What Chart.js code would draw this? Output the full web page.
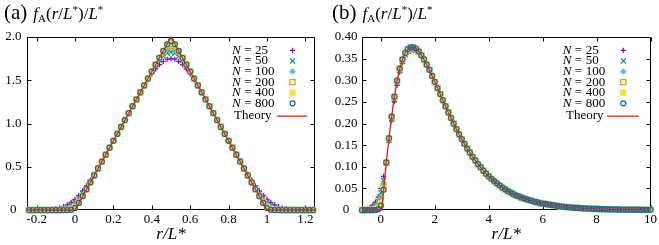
<!DOCTYPE html>
<html>
<head>
<meta charset="utf-8">
<script src="https://cdn.jsdelivr.net/npm/chart.js@4.4.1/dist/chart.umd.min.js"></script>
<style>
  body { margin: 0; background: #fff; width: 659px; height: 245px; position: relative; overflow: hidden; }
  canvas { position: absolute; top: 0; }
  .ttl { position: absolute; top: 0; height: 24px; line-height: 24px; white-space: nowrap; font-family: "Liberation Serif", serif; color: #000; }
  .pl { font-size: 21px; }
  .fx { font-size: 17px; margin-left: 6px; }
  .fx sub { font-size: 11px; vertical-align: -3px; line-height: 0; }
  .fx sup { font-size: 11px; vertical-align: 6px; line-height: 0; }
</style>
</head>
<body>
<canvas id="chartA" width="330" height="245" style="left:0"></canvas>
<canvas id="chartB" width="329" height="245" style="left:330px"></canvas>
<div class="ttl" style="left:4px"><span class="pl">(a)</span><span class="fx"><i>f</i><sub>A</sub>(<i>r</i>/<i>L</i><sup>*</sup>)/<i>L</i><sup>*</sup></span></div>
<div class="ttl" style="left:332px"><span class="pl">(b)</span><span class="fx"><i>f</i><sub>A</sub>(<i>r</i>/<i>L</i><sup>*</sup>)/<i>L</i><sup>*</sup></span></div>
<script>
// legend labels
const sizes = ["25", "50", "100", "200", "400", "800"];

// ---- panel (a) ----
const xA = [
  -0.24,-0.22,-0.2,-0.18,-0.16,-0.14,-0.12,-0.1,-0.08,-0.06,
  -0.04,-0.02,0,0.02,0.04,0.06,0.08,0.1,0.12,0.14,
  0.16,0.18,0.2,0.22,0.24,0.26,0.28,0.3,0.32,0.34,
  0.36,0.38,0.4,0.42,0.44,0.46,0.48,0.5,0.52,0.54,
  0.56,0.58,0.6,0.62,0.64,0.66,0.68,0.7,0.72,0.74,
  0.76,0.78,0.8,0.82,0.84,0.86,0.88,0.9,0.92,0.94,
  0.96,0.98,1,1.02,1.04,1.06,1.08,1.1,1.12,1.14,
  1.16,1.18,1.2,1.22,1.24
];
const n25A = [
  0,0,0,0.001,0.002,0.004,0.008,0.015,0.025,0.04,
  0.06,0.089,0.124,0.169,0.22,0.28,0.345,0.415,0.488,0.565,
  0.642,0.721,0.8,0.88,0.96,1.04,1.12,1.199,1.278,1.355,
  1.431,1.503,1.571,1.631,1.681,1.719,1.743,1.751,1.743,1.719,
  1.681,1.631,1.571,1.503,1.431,1.355,1.278,1.199,1.12,1.04,
  0.96,0.88,0.8,0.721,0.642,0.565,0.488,0.415,0.345,0.28,
  0.22,0.169,0.124,0.089,0.06,0.04,0.025,0.015,0.008,0.004,
  0.002,0.001,0,0,0
];
const n50A = [
  0,0,0,0,0,0,0.001,0.003,0.007,0.015,
  0.03,0.053,0.088,0.134,0.19,0.255,0.327,0.403,0.481,0.56,
  0.64,0.72,0.8,0.88,0.96,1.04,1.12,1.2,1.28,1.36,
  1.439,1.518,1.594,1.666,1.729,1.78,1.813,1.824,1.813,1.78,
  1.729,1.666,1.594,1.518,1.439,1.36,1.28,1.2,1.12,1.04,
  0.96,0.88,0.8,0.72,0.64,0.56,0.481,0.403,0.327,0.255,
  0.19,0.134,0.088,0.053,0.03,0.015,0.007,0.003,0.001,0,
  0,0,0,0,0
];
const n100A = [
  0,0,0,0,0,0,0,0,0.001,0.004,
  0.012,0.03,0.062,0.11,0.172,0.244,0.321,0.4,0.48,0.56,
  0.64,0.72,0.8,0.88,0.96,1.04,1.12,1.2,1.28,1.36,
  1.44,1.52,1.6,1.678,1.752,1.815,1.86,1.876,1.86,1.815,
  1.752,1.678,1.6,1.52,1.44,1.36,1.28,1.2,1.12,1.04,
  0.96,0.88,0.8,0.72,0.64,0.56,0.48,0.4,0.321,0.244,
  0.172,0.11,0.062,0.03,0.012,0.004,0.001,0,0,0,
  0,0,0,0,0
];
const n200A = [
  0,0,0,0,0,0,0,0,0,0.001,
  0.004,0.016,0.045,0.096,0.164,0.241,0.32,0.4,0.48,0.56,
  0.64,0.72,0.8,0.88,0.96,1.04,1.12,1.2,1.28,1.36,
  1.44,1.52,1.6,1.68,1.759,1.832,1.889,1.911,1.889,1.832,
  1.759,1.68,1.6,1.52,1.44,1.36,1.28,1.2,1.12,1.04,
  0.96,0.88,0.8,0.72,0.64,0.56,0.48,0.4,0.32,0.241,
  0.164,0.096,0.045,0.016,0.004,0.001,0,0,0,0,
  0,0,0,0,0
];
const n400A = [
  0,0,0,0,0,0,0,0,0,0,
  0.001,0.006,0.031,0.086,0.161,0.24,0.32,0.4,0.48,0.56,
  0.64,0.72,0.8,0.88,0.96,1.04,1.12,1.2,1.28,1.36,
  1.44,1.52,1.6,1.68,1.76,1.839,1.908,1.938,1.908,1.839,
  1.76,1.68,1.6,1.52,1.44,1.36,1.28,1.2,1.12,1.04,
  0.96,0.88,0.8,0.72,0.64,0.56,0.48,0.4,0.32,0.24,
  0.161,0.086,0.031,0.006,0.001,0,0,0,0,0,
  0,0,0,0,0
];
const n800A = [
  0,0,0,0,0,0,0,0,0,0,
  0,0.002,0.022,0.082,0.16,0.24,0.32,0.4,0.48,0.56,
  0.64,0.72,0.8,0.88,0.96,1.04,1.12,1.2,1.28,1.36,
  1.44,1.52,1.6,1.68,1.76,1.84,1.916,1.955,1.916,1.84,
  1.76,1.68,1.6,1.52,1.44,1.36,1.28,1.2,1.12,1.04,
  0.96,0.88,0.8,0.72,0.64,0.56,0.48,0.4,0.32,0.24,
  0.16,0.082,0.022,0.002,0,0,0,0,0,0,
  0,0,0,0,0
];
const theoryXA = [-0.25, 0, 0.5, 1, 1.25];
const theoryYA = [0, 0, 2, 0, 0];
const ticksXA = [-0.2, 0, 0.2, 0.4, 0.6, 0.8, 1, 1.2];
const labelsXA = ["-0.2", "0", "0.2", "0.4", "0.6", "0.8", "1", "1.2"];
const ticksYA = [0, 0.5, 1, 1.5, 2];
const labelsYA = ["0", "0.5", "1.0", "1.5", "2.0"];

// ---- panel (b) ----
const xBHead = [-0.7,-0.6,-0.5,-0.4,-0.3,-0.2,-0.1,0,0.1,0.2,0.3,0.4,0.5,0.6,0.7,0.8,0.9,1,1.1,1.2,1.3,1.4];
const n25BHead  = [0,0.001,0.003,0.006,0.011,0.018,0.03,0.05,0.078,0.112,0.158,0.206,0.25,0.288,0.318,0.34,0.355,0.364,0.368,0.369,0.367,0.362];
const n50BHead  = [0,0,0.001,0.003,0.006,0.011,0.02,0.04,0.068,0.11,0.161,0.21,0.255,0.293,0.322,0.344,0.359,0.368,0.372,0.372,0.37,0.364];
const n100BHead = [0,0,0,0.001,0.003,0.006,0.013,0.03,0.06,0.109,0.163,0.213,0.259,0.296,0.325,0.346,0.361,0.37,0.374,0.374,0.372,0.366];
const n200BHead = [0,0,0,0,0.001,0.003,0.008,0.022,0.054,0.109,0.165,0.215,0.261,0.298,0.326,0.347,0.362,0.371,0.375,0.375,0.372,0.366];
const n400BHead = [0,0,0,0,0,0.001,0.004,0.015,0.05,0.11,0.166,0.216,0.262,0.299,0.327,0.348,0.363,0.372,0.376,0.376,0.373,0.367];
const n800BHead = [0,0,0,0,0,0,0.002,0.01,0.047,0.11,0.166,0.216,0.262,0.299,0.327,0.348,0.363,0.372,0.376,0.376,0.373,0.367];
const theoryXBHead = [-0.7,0.03,0.1,0.2,0.3,0.4,0.5,0.6,0.7,0.8,0.9,1,1.1,1.2,1.3,1.4];
const theoryYBHead = [0,0,0.045,0.11,0.166,0.216,0.262,0.299,0.327,0.348,0.363,0.372,0.376,0.376,0.373,0.367];
// beyond r/L* = 1.5 all sizes sit on the theory curve
const xBTail = [
  1.5,1.6,1.7,1.8,1.9,2,2.1,2.2,2.3,2.4,
  2.5,2.6,2.7,2.8,2.9,3,3.1,3.2,3.3,3.4,
  3.5,3.6,3.7,3.8,3.9,4,4.1,4.2,4.3,4.4,
  4.5,4.6,4.7,4.8,4.9,5,5.1,5.2,5.3,5.4,
  5.5,5.6,5.7,5.8,5.9,6,6.1,6.2,6.3,6.4,
  6.5,6.6,6.7,6.8,6.9,7,7.1,7.2,7.3,7.4,
  7.5,7.6,7.7,7.8,7.9,8,8.1,8.2,8.3,8.4,
  8.5,8.6,8.7,8.8,8.9,9,9.1,9.2,9.3,9.4,
  9.5,9.6,9.7,9.8,9.9,10
];
const tailB = [
  0.358,0.348,0.336,0.324,0.31,0.296,0.282,0.268,0.254,0.24,
  0.226,0.213,0.2,0.187,0.175,0.164,0.153,0.142,0.133,0.123,
  0.115,0.106,0.099,0.091,0.084,0.078,0.072,0.067,0.062,0.057,
  0.052,0.048,0.044,0.041,0.037,0.034,0.032,0.029,0.027,0.025,
  0.023,0.021,0.019,0.018,0.016,0.015,0.014,0.013,0.012,0.011,
  0.01,0.009,0.008,0.0074,0.0068,0.0062,0.0057,0.0052,0.0048,0.0044,
  0.004,0.0037,0.0034,0.0031,0.0028,0.0026,0.0023,0.0021,0.0019,0.0018,
  0.0016,0.0015,0.0013,0.0012,0.0011,0.001,0.0009,0.0008,0.0008,0.0007,
  0.0006,0.0006,0.0005,0.0005,0.0004,0.0004
];
const ticksXB = [0, 2, 4, 6, 8, 10];
const labelsXB = ["0", "2", "4", "6", "8", "10"];
const ticksYB = [0, 0.05, 0.1, 0.15, 0.2, 0.25, 0.3, 0.35, 0.4];
const labelsYB = ["0", "0.05", "0.10", "0.15", "0.20", "0.25", "0.30", "0.35", "0.40"];

// gnuplot-ish colours and point types
const colors = ["#9400d3", "#009e73", "#56b4e9", "#e69f00", "#f0e442", "#0072b2"];
const styles = ["cross", "crossRot", "star", "rect", "rect", "circle"];
const radii = [2.6, 3.6, 3, 3.6, 3.6, 2.5];
const fills = ["transparent", "transparent", "transparent", "transparent", "#f0e442", "transparent"];
const red = "#e51e10";
const serif = '"Liberation Serif", "Times New Roman", serif';

function pts(xs, ys) {
  return xs.map((x, i) => ({ x: x, y: ys[i] }));
}

function makeSets(xs, series, thX, thY) {
  const sets = series.map((ys, i) => ({
    label: "N = " + sizes[i],
    data: pts(xs, ys),
    showLine: false,
    pointStyle: styles[i],
    pointRadius: radii[i],
    pointBorderWidth: 1.25,
    borderColor: colors[i],
    backgroundColor: fills[i],
    pointBackgroundColor: fills[i],
    order: 7 - i,
    clip: 6,
  }));
  sets.push({
    label: "Theory",
    data: pts(thX, thY),
    showLine: true,
    borderColor: red,
    borderWidth: 1.3,
    pointRadius: 0,
    order: 0,
    clip: 2,
  });
  return sets;
}

function drawMark(ctx, style, x, y, r, stroke, fill) {
  ctx.strokeStyle = stroke;
  ctx.fillStyle = fill;
  ctx.lineWidth = 1.25;
  ctx.beginPath();
  const d = r * Math.SQRT1_2;
  if (style === "cross" || style === "star") {
    ctx.moveTo(x - r, y); ctx.lineTo(x + r, y);
    ctx.moveTo(x, y - r); ctx.lineTo(x, y + r);
  }
  if (style === "crossRot" || style === "star") {
    ctx.moveTo(x - d, y - d); ctx.lineTo(x + d, y + d);
    ctx.moveTo(x - d, y + d); ctx.lineTo(x + d, y - d);
  }
  if (style === "rect") {
    ctx.rect(x - d, y - d, 2 * d, 2 * d);
    ctx.fill();
  }
  if (style === "circle") {
    ctx.arc(x, y, r, 0, Math.PI * 2);
  }
  ctx.stroke();
}

// frame with inward ticks on all four sides, plus the key inside the plot
const framePlugin = {
  id: "frame",
  beforeDatasetsDraw(chart) {
    const { ctx, chartArea: a, scales } = chart;
    const L = Math.round(a.left) + 0.5, R = Math.round(a.right) - 0.5;
    const T = Math.round(a.top) + 0.5, B = Math.round(a.bottom) - 0.5;
    ctx.save();
    ctx.strokeStyle = "#000";
    ctx.lineWidth = 1;
    ctx.beginPath();
    ctx.rect(L, T, R - L, B - T);
    scales.x.ticks.forEach(t => {
      const px = Math.round(scales.x.getPixelForValue(t.value)) + 0.5;
      ctx.moveTo(px, B); ctx.lineTo(px, B - 4);
      ctx.moveTo(px, T); ctx.lineTo(px, T + 4);
    });
    scales.y.ticks.forEach(t => {
      const py = Math.round(scales.y.getPixelForValue(t.value)) + 0.5;
      ctx.moveTo(L, py); ctx.lineTo(L + 4, py);
      ctx.moveTo(R, py); ctx.lineTo(R - 4, py);
    });
    ctx.stroke();
    ctx.restore();
  },
  afterDraw(chart, args, opts) {
    const ctx = chart.ctx;
    ctx.save();
    ctx.textBaseline = "middle";
    ctx.textAlign = "left";
    chart.data.datasets.forEach((ds, i) => {
      if (ds.label === "Theory") {
        const y = opts.theoryY;
        ctx.fillStyle = "#000";
        ctx.font = "13px " + serif;
        ctx.fillText("Theory", opts.theoryX, y);
        ctx.strokeStyle = red;
        ctx.lineWidth = 1.3;
        ctx.beginPath();
        ctx.moveTo(opts.line0, y + 0.5); ctx.lineTo(opts.line1, y + 0.5);
        ctx.stroke();
        return;
      }
      const y = opts.row0 + i * opts.rowGap;
      ctx.fillStyle = "#000";
      ctx.font = "italic 13px " + serif;
      ctx.fillText("N", opts.textX, y);
      let x = opts.textX + ctx.measureText("N").width + 3.5;
      ctx.font = "13px " + serif;
      ctx.fillText("=", x, y);
      x += ctx.measureText("=").width + 3.5;
      ctx.fillText(sizes[i], x, y);
      drawMark(ctx, styles[i], opts.markX, y, radii[i], colors[i], fills[i]);
    });
    ctx.restore();
  }
};

function axis(min, max, tickVals, tickLabels, extra) {
  return Object.assign({
    type: "linear",
    min: min,
    max: max,
    afterBuildTicks: s => { s.ticks = tickVals.map(v => ({ value: v })); },
    ticks: {
      callback: (v, i) => tickLabels[i],
      color: "#000",
      font: { family: serif, size: 13 },
      autoSkip: false,
      maxRotation: 0,
    },
    grid: { display: false, drawTicks: false },
    border: { display: false },
  }, extra);
}

function build(id, sets, xAxis, yAxis, rightPad, key) {
  return new Chart(document.getElementById(id), {
    type: "scatter",
    data: { datasets: sets },
    options: {
      responsive: false,
      animation: false,
      layout: { padding: { left: 0, top: 37, right: rightPad, bottom: 0 } },
      scales: { x: xAxis, y: yAxis },
      plugins: { legend: { display: false }, tooltip: { enabled: false }, frame: key },
    },
    plugins: [framePlugin],
  });
}

function xAxisOf(min, max, tv, tl) {
  const a = axis(min, max, tv, tl, {
    title: { display: true, text: "r/L*", color: "#000", font: { family: serif, size: 17, style: "italic" }, padding: { top: 0, bottom: 0 } },
    afterFit: s => { s.height = 35; },
  });
  a.ticks.padding = 2;
  return a;
}

function yAxisOf(min, max, tv, tl, w, pad) {
  const a = axis(min, max, tv, tl, { afterFit: s => { s.width = w; } });
  a.ticks.crossAlign = "center";
  a.ticks.padding = pad;
  return a;
}

build("chartA",
  makeSets(xA, [n25A, n50A, n100A, n200A, n400A, n800A], theoryXA, theoryYA),
  xAxisOf(-0.25, 1.25, ticksXA, labelsXA),
  yAxisOf(0, 2, ticksYA, labelsYA, 27, 5.6),
  15,
  { textX: 232, markX: 292.5, line0: 277, line1: 307, theoryX: 234, theoryY: 115.7, row0: 50.3, rowGap: 10.6 });

const headsB = [n25BHead, n50BHead, n100BHead, n200BHead, n400BHead, n800BHead];
build("chartB",
  makeSets(xBHead.concat(xBTail), headsB.map(h => h.concat(tailB)), theoryXBHead.concat(xBTail), theoryYBHead.concat(tailB)),
  xAxisOf(-0.7, 10, ticksXB, labelsXB),
  yAxisOf(0, 0.4, ticksYB, labelsYB, 32, 4.6),
  7,
  { textX: 232.7, markX: 293.3, line0: 277, line1: 308.5, theoryX: 236, theoryY: 115.7, row0: 50.3, rowGap: 10.6 });
</script>
</body>
</html>
